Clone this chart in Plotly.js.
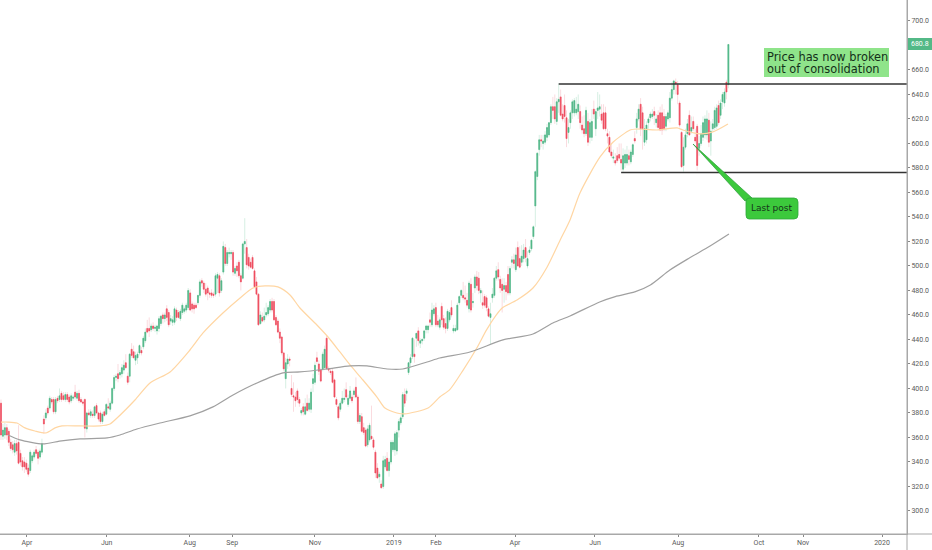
<!DOCTYPE html>
<html><head><meta charset="utf-8">
<script src="https://cdn.plot.ly/plotly-3.0.1.min.js"></script>
<style>html,body{margin:0;padding:0;background:#fff}#chart{width:932px;height:550px}</style>
</head><body><div id="chart"></div>
<script>
// Each bar: [open, high, low, close]
const barsSpring2018 = [
[388,391,358,362],[361,371,358,366],[362,372,359,368],[368,371,358,362],[365,367,353,356],
[356,359,349,351],[354,357,347,350],[348,358,345,355],[355,358,346,349],[356,370,338,339],
[347,350,337,340],[341,344,333,336],[340,344,331,336],[339,342,332,334],[335,338,328,330],
[333,350,331,348],[341,347,339,345],[344,350,342,348],[350,353,345,347],[348,350,338,343],
[344,351,342,349],[348,359,346,355],[375,378,363,371],[376,383,374,380],[384,386,378,380],
[384,394,382,392],[391,393,387,389],[391,393,379,381],[381,393,379,391],[392,394,388,390],
[391,400,389,394],[396,398,389,391],[394,397,390,391],[391,397,389,395],[395,397,389,391],
[393,395,387,389],[390,396,388,394],[392,395,390,393],[397,403,391,393],[392,398,390,396],
[396,399,388,390],[391,393,388,389],[389,391,386,388],[391,392,360,367.5],[367,381,364,380],
[380,383,378,378.5],[378,383,376,381],[379,382,376,378],[378,386,376,385],[386,388,379,380],
[380,381,373,375],[380,382,371,373],[373,381,371,379],[381,383,377,378],[379,388,378,387]];
const barsSummer2018 = [
[385,392,383,384],[383,390,381,388],[388,401,387,400],[400,411,398,409],[409,412,406,410],
[412,420,405,408],[411,415,408,413],[412,420,409,417],[415,423,412,419],[421,428,416,417],
[410,413,403,405],[410,429,405,428],[432,437,425,427],[430,435,425,425],[423,430,419,427],
[425,430,420,428],[429,436,427,435],[431,434,427,429],[434,443,432,441],[439,449,437,446],
[449,456,445,446],[449,458,442,447],[448,453,446,451],[451,454,447,449],[449,452,446,450],
[447,452,444,451],[449,459,446,457],[453,460,451,459],[460,462,453,457],[457,462,454,460],
[465,468,455,458],[462,464,450,452],[455,460,452,457],[454,459,451,456],[454,467,452,465],
[464,466,455,458],[462,464,457,458],[457,465,455,463],[462,470,460,468],[463,467,461,465],
[464,470,462,468],[466,482,464,480],[478,481,463,464]];
const barsAugust2018 = [
[469,471,462,465],[468,470,461,465],[468,470,465,466],[470,476,468,476],[476,489,474,487],
[488,490,483,486],[486,488,478,481],[481,486,475,477],[482,484,472,478],[478,480,474,477],
[478,481,474,476],[477,479,474,476],[477,494,475,492],[490,495,478,493],[492,494,475,478],
[480,490,478,488],[495,520,493,516],[515,518,500,502],[502,513,500,511],[510,515,507,511],
[510,513,505,511]];
const barsAutumn2018 = [
[511,513,492,495],[494,500,492,498],[500,503,491,496],[503,505,490,492],[492,494,480,487],
[490,519,489,518],[518,539,510,520],[515,522,498,501],[507,510,497,500],[503,506,498,499],
[507,509,497,498],[496,498,482,483],[487,491,476,477],[477,478,451,452],[453,463,452,460],
[458,462,454,455],[456,466,454,459],[460,470,458,462],[461,468,459,466],[464,473,462,471],
[471,474,462,464],[471,473,455,456],[458,460,451,452],[455,457,445,446],[446,449,437,441],
[442,443,427,429],[429,430,414,416],[408,425,400,421],[420,428,416,424],[424,426,418,423],
[400,411,393,395],[394,405,381,393],[393,397,385,390],[398,400,388,391],[391,393,385,388],
[380,384,378,382],[385,388,378,381],[379,392,378,385],[388,395,381,382],[383,392,381,388],
[383,400,380,397],[404,412,397,408]];
const barsWinter2018 = [
[405,422,403,419],[425,430,420,422],[420,423,411,414],[415,417,405,406],[416,430,414,428],
[417,435,415,432],[441,443,415,416],[416,418,413,415],[414,416,411,413],[414,416,404,405],
[407,408,392,393],[391,393,385,387],[385,387,374,376],[383,390,381,388],[388,398,387,392],
[391,400,389,392],[399,405,391,393],[387,395,385,392],[392,402,390,398],[393,396,388,390],
[395,400,392,398],[401,409,392,393],[393,395,371,373],[373,380,371,378],[377,380,364,365],
[368,372,362,364],[366,368,352,353],[354,370,352,367],[358,372,356,370],[361,386,358,359],
[358,360,350,352],[348,350,327,331],[335,339,326,327],[328,332,323,330],[322,325,318,319],
[320,345,318,341],[336,345,334,342],[343,348,332,333],[333,343,328,340],[340,358,338,356],
[350,358,348,356]];
const barsEarly2019 = [
[350,365,345,363],[349,366,346,364],[366,375,360,373],[372,378,370,376],[377,397,375,395],
[395,400,385,388],[396,400,390,398],[413,421,411,421],[421,428,417,425],[426,442,424,441],
[428,440,421,426],[441,445,434,445],[447,450,435,439],[437,441,433,439],[439,441,436,440],
[441,448,439,447],[448,452,445,451],[448,452,445,451],[456,462,450,454],[452,470,450,464],
[461,468,459,465],[466,470,450,452],[455,460,450,452],[450,458,448,456],[467,470,452,456],
[457,460,448,450],[453,458,445,449],[449,465,447,463],[456,464,454,462],[466,472,458,460],
[447,452,445,449],[447,452,446,449],[448,470,447,468],[470,476,468,475],[476,481,474,480],
[476,487,472,474],[474,484,470,473],[472,478,466,468],[465,488,462,486],[485,490,462,464],
[470,478,466,471],[482,493,478,491],[491,496,480,484],[490,495,477,480],[478,482,470,480],
[470,480,465,468],[475,477,466,468],[474,476,463,466],[465,467,458,459],[458,470,436,461],
[474,482,470,477],[476,491,474,490],[490,500,488,496],[497,503,488,491],[489,492,478,482],
[485,490,462,480],[481,490,470,484],[484,487,472,479],[493,500,476,478],[478,500,476,498],
[503,508,498,505],[505,510,498,502]];
const barsSpring2019 = [
[497,515,495,509],[515,520,500,500],[506,516,498,499],[503,517,500,508],[506,518,503,513],
[515,522,503,507],[500,512,498,506],[511,516,509,513],[514,522,512,521],[524,533,522,532],
[549,578,532,577],[573,593,570,592],[595,607,590,603],[603,607,597,602],[600,607,595,602],
[601,610,599,607],[605,616,602,613],[607,617,605,617],[617,632,615,630],[630,638,620,627],
[630,640,616,620],[618,637,615,634],[634,649,625,636],[638,644,622,623],[624,632,618,620],
[631,640,617,622],[621,627,597,604],[609,620,600,613],[617,627,612,625],[625,636,620,634],
[625,637,622,635],[625,638,623,628],[626,640,620,632],[626,631,612,617],[615,622,608,611],
[612,623,605,608],[608,630,606,627],[618,625,598,601],[605,620,600,617],[605,628,602,618],
[628,635,620,624]];
const barsSummer2019 = [
[612,628,606,626],[627,642,620,629],[628,640,622,630],[624,632,616,619],[625,632,611,612],
[625,630,610,612],[608,612,600,606],[605,610,592,593],[593,600,588,590],[588,595,584,589],
[586,592,582,584],[590,597,584,586],[591,600,586,588],[587,600,578,584],[579,596,577,590],
[584,595,580,591],[584,598,582,591],[590,595,582,587],[585,595,583,593],[591,600,589,599],
[604,610,600,602],[613,625,608,620],[620,632,618,628],[632,637,606,612],[625,630,595,612],
[601,620,598,612],[603,618,600,615],[617,622,612,620],[621,626,618,624],[622,628,620,624],
[626,630,615,623],[617,624,613,620],[623,627,612,613],[625,630,610,611],[625,632,607,611],
[622,628,610,612],[614,624,610,622],[620,627,618,625],[621,642,617,637],[637,650,635,644],
[644,652,640,651],[650,653,640,649],[648,651,632,640]];
const barsLate2019 = [
[633,635,613,615],[609,610,580,581],[582,605,577,597],[597,612,595,607],[608,620,605,616],
[623,627,606,607],[610,622,608,613],[618,622,610,612],[605,612,600,602],[614,616,578,582],
[596,606,590,600],[600,615,598,608],[605,622,602,617],[607,623,604,620],[607,627,603,620],
[619,625,597,601],[602,618,590,610],[612,620,610,616],[613,630,611,627],[614,632,612,629],
[631,635,615,617],[623,636,620,633],[634,642,628,640],[633,645,630,642],[650,652,636,642],
[648,681,645,680.8]];

// Moving averages, read at the marked bar numbers
const slowMaBars = [0,3.6,8.2,12.3,17.4,23,27.7,31.3,40.5,50.8,55.9,59.5,68.7,76.4,86.7,96.9,103.6,113.8,122.6,129.2,135.4,142,148.2,153.3,162,167.7,173.8,179,185.6,192.8,196.9,203,207,219,225,230,237,244,249,254,257,264.6,272.8,280,286.7,291.8,296.9,307.2,313.8,322.6,326,336.4,346.7,349.7,358.5,365,372.8];
const slowMaValues = [372.6,372.6,371.8,367.8,365.3,363.7,367.8,369.4,369.4,369.4,371,375.9,390.6,404.5,413.5,431.4,445.3,461.6,473.9,482,483.7,482.9,476.3,465.7,451.8,442,429.8,419.2,406.9,393,384,380,379.2,384,393,398.8,415,433,447.8,460,465.7,472.2,482,499,521,537.6,559.6,589,601,611,611.8,611,612.7,611,607.8,609.4,615.9];
const longMaBars = [3.6,9.7,21.5,30,40.5,54.4,61,69.7,81.5,96.9,108.7,119,131.3,144.6,153.3,167,179,187.7,198,206,218.5,225,240.5,257.4,272.8,283,291.8,307,315,325,333,343,353,363.6,373.3];
const longMaValues = [362,358,354.7,357,358.8,359.6,362,366.9,371.8,377.6,385,394.7,404.5,412.7,413.5,415.9,418.4,418.4,415.9,415.9,421.6,424.9,429.8,439.6,444.5,453.5,459.2,470.6,475,478.8,484.5,496.7,506.5,516.3,526.1];

const monthBars = [13.3,54.2,96.8,118.6,161,201.5,223,263.6,304.6,347.2,388.7,411.3,451.8];
const monthLabels = ['Apr','Jun','Aug','Sep','Nov','2019','Feb','Apr','Jun','Aug','Oct','Nov','2020'];
const priceTicks = [300,320,340,360,380,400,420,440,460,480,500,520,540,560,580,600,620,640,660,700];
const resistance = 648.5, resistanceFromBar = 286;
const support = 576.3, supportFromBar = 318;
const lastPrice = 680.8;

const rows = [].concat(barsSpring2018,barsSummer2018,barsAugust2018,barsAutumn2018,barsWinter2018,barsEarly2019,barsSpring2019,barsSummer2019,barsLate2019);
const barNo = rows.map((_,i)=>i);
const opens = rows.map(r=>r[0]), highs = rows.map(r=>r[1]), lows = rows.map(r=>r[2]), closes = rows.map(r=>r[3]);

const W=907, H=534;
const px = x=>x/W, py = y=>1-y/H;
const green='#4cb585', red='#ef4a5c';

const traces = [
 {type:'candlestick',x:barNo,open:opens,high:highs,low:lows,close:closes,hoverinfo:'skip',showlegend:false,whiskerwidth:0,
  increasing:{line:{color:'#d6efe3',width:1},fillcolor:'#d6efe3'},decreasing:{line:{color:'#fadbdf',width:1},fillcolor:'#fadbdf'}},
 {type:'candlestick',x:barNo,open:opens,close:closes,
  high:rows.map(r=>Math.max(r[0],r[3])),low:rows.map(r=>Math.min(r[0],r[3])),hoverinfo:'skip',showlegend:false,whiskerwidth:0,
  increasing:{line:{color:green,width:0.6},fillcolor:green},decreasing:{line:{color:red,width:0.6},fillcolor:red}},
 {type:'scatter',mode:'lines',x:slowMaBars,y:slowMaValues,line:{color:'#ffd6a3',width:1.2,shape:'spline',smoothing:0.7},hoverinfo:'skip',showlegend:false},
 {type:'scatter',mode:'lines',x:longMaBars,y:longMaValues,line:{color:'#a0a0a0',width:1.2,shape:'spline',smoothing:0.7},hoverinfo:'skip',showlegend:false}
];
const xMax=464.6, xMin=-0.51;
const pFont={family:'"DejaVu Sans",sans-serif',size:11.4,color:'#14301a'};
const tickFont={family:'Roboto,sans-serif',size:7,color:'#5a5a5a'};
const layout={
 width:932,height:550,paper_bgcolor:'#fff',plot_bgcolor:'#fff',showlegend:false,
 margin:{l:0,r:25,t:0,b:16,pad:0},
 xaxis:{range:[xMin,xMax],rangeslider:{visible:false},tickmode:'array',tickvals:monthBars,ticktext:monthLabels,showgrid:false,zeroline:false,
  showline:true,linecolor:'#a8a8a8',linewidth:1,ticks:'outside',ticklen:2,tickcolor:'#888',tickfont:tickFont},
 yaxis:{range:[281.2,717.1],side:'right',tickmode:'array',tickvals:priceTicks,tickformat:'.1f',showgrid:false,zeroline:false,
  showline:true,linecolor:'#a8a8a8',linewidth:1,ticks:'outside',ticklen:2,tickcolor:'#888',tickfont:tickFont},
 shapes:[
  {type:'line',xref:'x',yref:'y',x0:resistanceFromBar,x1:xMax,y0:resistance,y1:resistance,line:{color:'#333',width:1.4}},
  {type:'line',xref:'x',yref:'y',x0:supportFromBar,x1:xMax,y0:support,y1:support,line:{color:'#333',width:1.4}},
  {type:'line',xref:'paper',yref:'paper',x0:1,x1:1,y0:py(550),y1:1,line:{color:'#a8a8a8',width:1}},
  {type:'line',xref:'paper',yref:'paper',x0:0,x1:px(932),y0:0,y1:0,line:{color:'#a8a8a8',width:1}},
  {type:'rect',xref:'paper',yref:'paper',x0:px(764),x1:px(889),y0:py(48),y1:py(77),fillcolor:'#8fe48a',line:{width:0},layer:'above'},
  {type:'path',xref:'paper',yref:'paper',layer:'above',fillcolor:'#3cc93c',line:{color:'#2a9a3a',width:0.7},
   path:`M ${px(693)} ${py(144)} L ${px(745)} ${py(201)} L ${px(752)} ${py(198)} Z`},
  {type:'path',xref:'paper',yref:'paper',layer:'above',fillcolor:'#3cc93c',line:{color:'#2fa83a',width:0.8},
   path:`M ${px(749)} ${py(198)} L ${px(794)} ${py(198)} Q ${px(798)} ${py(198)} ${px(798)} ${py(202)} L ${px(798)} ${py(215)} Q ${px(798)} ${py(219)} ${px(794)} ${py(219)} L ${px(749)} ${py(219)} Q ${px(746)} ${py(219)} ${px(746)} ${py(215)} L ${px(746)} ${py(202)} Q ${px(746)} ${py(198)} ${px(749)} ${py(198)} Z`},
  {type:'rect',xref:'paper',yref:'paper',x0:px(908),x1:px(932),y0:py(38),y1:py(50),fillcolor:'#53b987',line:{width:0},layer:'above'}
 ],
 annotations:[
  {xref:'paper',yref:'paper',x:px(764.5),y:py(57),xanchor:'left',yanchor:'middle',text:'Price has now broken',showarrow:false,font:pFont},
  {xref:'paper',yref:'paper',x:px(764.5),y:py(68.5),xanchor:'left',yanchor:'middle',text:'out of consolidation',showarrow:false,font:pFont},
  {xref:'paper',yref:'paper',x:px(772),y:py(208),xanchor:'center',yanchor:'middle',text:'Last post',showarrow:false,font:{family:'"DejaVu Sans",sans-serif',size:9,color:'#16351a'}},
  {xref:'paper',yref:'paper',x:px(920),y:py(44),xanchor:'center',yanchor:'middle',text:lastPrice.toFixed(1),showarrow:false,font:{family:'Roboto,sans-serif',size:7,color:'#ffffff'}}
 ]
};
Plotly.newPlot('chart',traces,layout,{displayModeBar:false,staticPlot:true});
</script></body></html>
